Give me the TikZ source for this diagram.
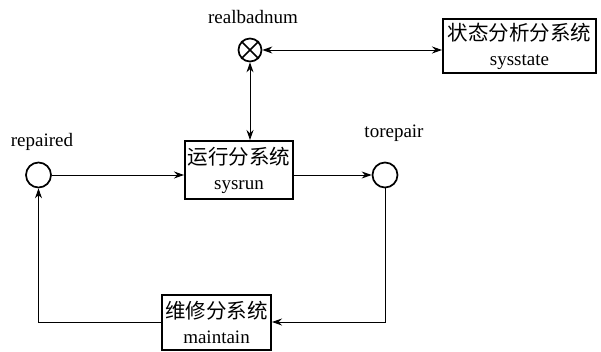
\documentclass[tikz,border=0pt]{standalone}
\usepackage{fontspec}
\setmainfont{Liberation Serif}
\newfontfamily\cjk{Noto Sans CJK SC}
\usetikzlibrary{arrows.meta}
\tikzset{
  subsys/.style={draw, line width=2pt, inner sep=0pt, align=center,
    font=\fontsize{19}{25}\selectfont},
  place/.style={draw, circle, line width=1.7pt, minimum size=25pt, inner sep=0pt},
  conn/.style={line width=0.9pt, -{Stealth[length=10pt,width=7pt]}},
  biconn/.style={line width=0.9pt, {Stealth[length=10pt,width=7pt]}-{Stealth[length=10pt,width=7pt]}},
  lbl/.style={font=\fontsize{19}{21}\selectfont, inner sep=0pt},
}
\newcommand{\zhtext}[1]{{\cjk\fontsize{20.5}{25}\selectfont #1}}
\begin{document}
\begin{tikzpicture}[x=1pt,y=-1pt]
\useasboundingbox (0,0) rectangle (601,352);

% subsystem boxes
\node[subsys, minimum width=153pt, minimum height=54pt] (state) at (519.5,46)
  {\zhtext{状态分析分系统}\\sysstate};
\node[subsys, minimum width=108pt, minimum height=58pt] (run) at (239,170)
  {\zhtext{运行分系统}\\sysrun};
\node[subsys, minimum width=109pt, minimum height=55pt] (maint) at (216.5,322)
  {\zhtext{维修分系统}\\maintain};

% places
\node[place, minimum size=23pt] (bad) at (250,50) {};
\draw[line width=1.7pt] (bad.north west) -- (bad.south east) (bad.north east) -- (bad.south west);
\node[place] (rep) at (38.5,175) {};
\node[place] (tor) at (385,175) {};

% labels
\node[lbl] (badlbl) at (253,17) {realbadnum};
\node[lbl] (replbl) at (42,142) {repaired};
\node[lbl] (torlbl) at (394,133) {torepair};

% corner points of the repair loop
\coordinate (c1) at (tor.south |- maint.east);
\coordinate (c2) at (rep.south |- maint.west);

% connectors
\draw[biconn] (bad.east) -- (bad.east -| state.west);
\draw[biconn] (bad.south) -- (bad.south |- run.north);
\draw[conn] (rep.east) -- (rep.east -| run.west);
\draw[conn] (run.east |- tor.west) -- (tor.west);
\draw[conn] (tor.south) -- (c1) -- (maint.east);
\draw[conn] (maint.west) -- (c2) -- (rep.south);
\end{tikzpicture}
\end{document}
